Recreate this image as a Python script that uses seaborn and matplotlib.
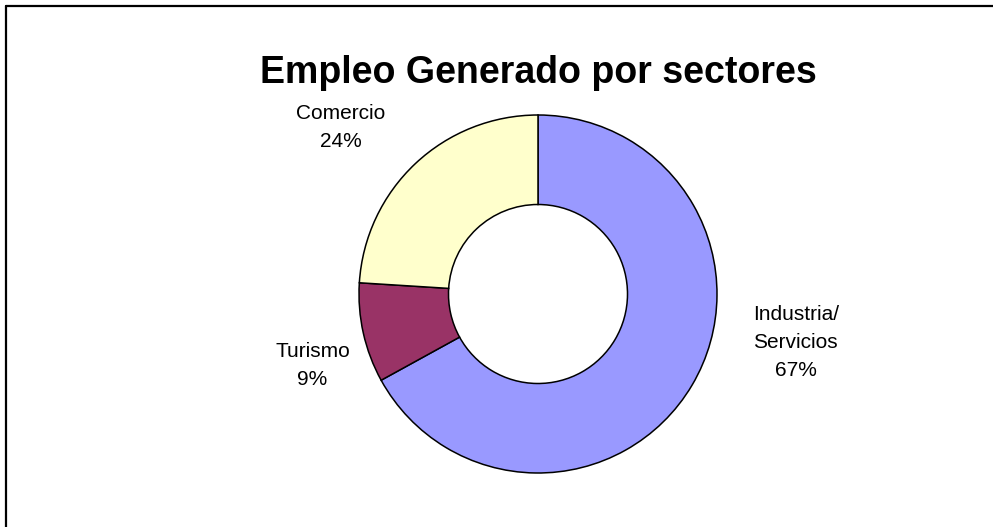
import matplotlib
matplotlib.use("Agg")
import matplotlib.pyplot as plt
from matplotlib.lines import Line2D
import seaborn as sns

sectores = ["Industria/\nServicios", "Turismo", "Comercio"]
empleo = [67, 9, 24]
colores = ["#9999FF", "#993366", "#FFFFCC"]
titulo = "Empleo Generado por sectores"

# posiciones de las etiquetas (en radios del anillo)
pos_etiquetas = [(1.44, -0.27), (-1.26, -0.40), (-1.10, 0.93)]

sns.set_theme(style="white")
plt.rcParams["font.family"] = ["Liberation Sans", "DejaVu Sans"]

W, H = 993, 527
fig = plt.figure(figsize=(W / 100, H / 100), dpi=100)

cx, cy, r = 538, 294, 179
ax = fig.add_axes([(cx - r) / W, (H - cy - r) / H, 2 * r / W, 2 * r / H])
paleta = sns.color_palette(colores)
ax.pie(empleo, colors=paleta, startangle=90, counterclock=False,
       radius=1, wedgeprops=dict(width=0.5, edgecolor="black", linewidth=1.1))
ax.set_xlim(-1, 1)
ax.set_ylim(-1, 1)
ax.set_aspect("equal")
ax.axis("off")

total = sum(empleo)
for nombre, valor, (x, y) in zip(sectores, empleo, pos_etiquetas):
    ax.text(x, y, f"{nombre}\n{valor / total:.0%}", ha="center", va="center",
            fontsize=15, linespacing=1.6, color="black", clip_on=False)

fig.text(cx / W, 1 - 83 / H, titulo, ha="center", va="baseline",
         fontsize=27, fontweight="bold", color="black")

# marco del gráfico (solo borde superior e izquierdo visibles)
fig.add_artist(Line2D([6 / W, 1], [1 - 6 / H, 1 - 6 / H], color="black", lw=1.6,
                      transform=fig.transFigure))
fig.add_artist(Line2D([6 / W, 6 / W], [0, 1 - 6 / H], color="black", lw=1.6,
                      transform=fig.transFigure))

fig.savefig("out.png", dpi=100, facecolor="white")
